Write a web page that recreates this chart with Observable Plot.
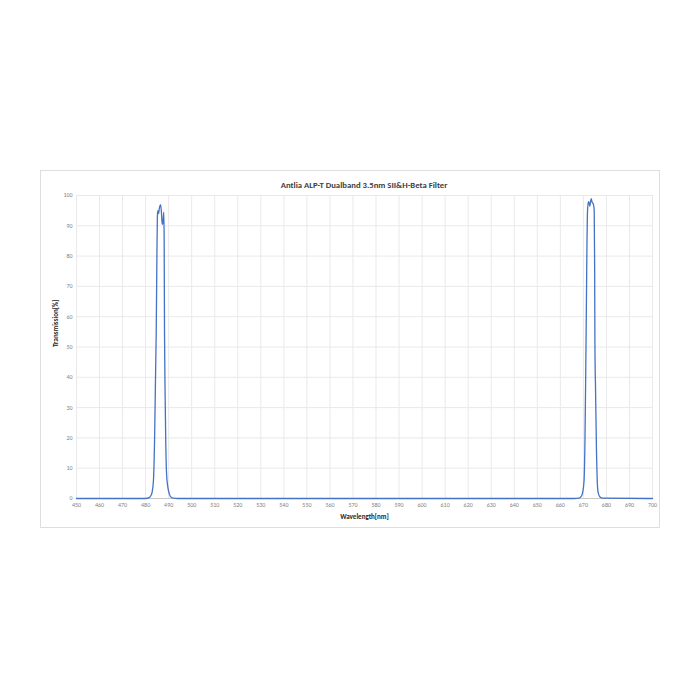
<!DOCTYPE html>
<html>
<head>
<meta charset="utf-8">
<script src="https://cdn.jsdelivr.net/npm/d3@7"></script>
<script src="https://cdn.jsdelivr.net/npm/@observablehq/plot@0.6"></script>
<style>
  html, body { margin: 0; padding: 0; background: #fff; }
  #box {
    position: absolute; left: 40px; top: 170px; width: 620px; height: 358px;
    box-sizing: border-box; border: 1px solid #dedede; background: #fff;
  }
  #title {
    height: 20px; box-sizing: border-box; padding-top: 8px; padding-left: 28px; line-height: 12px;
    text-align: center; font-family: Carlito, "Liberation Sans Narrow", Lato, sans-serif;
    font-weight: bold; font-size: 8.7px; color: #404040;
  }
  #chart svg { display: block; }
</style>
</head>
<body>
<div id="box">
  <div id="title">Antlia ALP-T Dualband 3.5nm SII&amp;H-Beta Filter</div>
  <div id="chart"></div>
</div>
<script>
const titleText = "Antlia ALP-T Dualband 3.5nm SII&H-Beta Filter";
const xLabel = "Wavelength[nm]";
const yLabel = "Transmission[%]";
const xTicks = [450,460,470,480,490,500,510,520,530,540,550,560,570,580,590,600,610,620,630,640,650,660,670,680,690,700];
const yTicks = [0,10,20,30,40,50,60,70,80,90,100];

const wavelength = [450,480,481.5,482.3,482.8,483.4,483.9,484.3,484.6,484.9,485.1,485.3,485.6,486.0,486.5,486.9,487.2,487.5,487.9,488.05,488.2,488.45,488.75,489.1,489.6,490.1,490.8,492,494,
  666,668,669,669.7,670.3,670.7,671.0,671.2,671.5,671.8,672.2,672.5,672.8,673.1,673.4,673.7,674.0,674.4,674.7,674.9,675.0,675.3,675.7,676.0,676.4,677.1,678.5,700];
const transmission = [0,0,0.3,1,2,6,20,40,55,80,93,95,94,96,97,94,90.5,91,94.5,85,55,35,18,8,4,2,0.6,0.1,0,
  0,0.1,0.6,2,6,20,40,55,80,95,98,97.5,96.5,98,99,98,97.5,97,95,75,52,35,15,6,2,0.6,0.1,0];

const data = wavelength.map((w, i) => ({w, t: transmission[i]}));

const font = 'Carlito, "Liberation Sans Narrow", Lato, sans-serif';

const chart = Plot.plot({
  width: 618,
  height: 336,
  marginLeft: 35,
  marginRight: 7,
  marginTop: 4,
  marginBottom: 29,
  style: {fontFamily: font, fontSize: "6px", color: "#7f7f7f", background: "#fff"},
  x: {domain: [450, 700], ticks: xTicks},
  y: {domain: [0, 100], ticks: yTicks},
  marks: [
    Plot.gridX(xTicks, {stroke: "#e9e9e9", strokeOpacity: 1}),
    Plot.gridY(yTicks, {stroke: "#e9e9e9", strokeOpacity: 1}),
    Plot.axisX(xTicks, {tickSize: 0, tickPadding: 4, label: null, fill: "#7f7f7f"}),
    Plot.axisY(yTicks, {tickSize: 0, tickPadding: 4, label: null, fill: "#7f7f7f"}),
    Plot.ruleY([0], {stroke: "#c8c8c8"}),
    Plot.line(data, {x: "w", y: "t", stroke: "#4472C4", strokeWidth: 1.3, curve: "monotone-x"}),
    Plot.text([xLabel], {frameAnchor: "bottom", dy: 20, fontWeight: "bold", fontSize: 7, fill: "#262626"}),
    Plot.text([yLabel], {frameAnchor: "left", dx: -21, rotate: -90, fontWeight: "bold", fontSize: 7, fill: "#262626"})
  ]
});
document.getElementById("chart").appendChild(chart);
</script>
</body>
</html>
